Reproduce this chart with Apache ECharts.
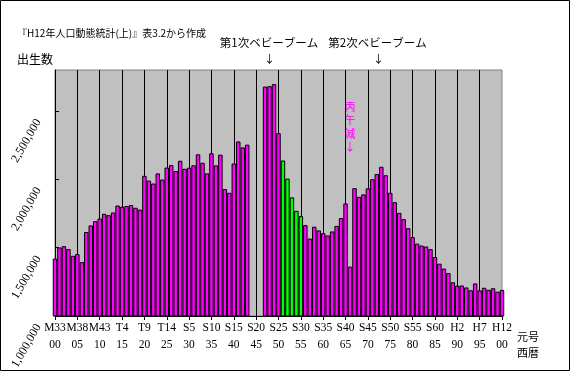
<!DOCTYPE html>
<html><head><meta charset="utf-8">
<script src="https://cdn.jsdelivr.net/npm/echarts@6/dist/echarts.min.js"></script>
<style>html,body{margin:0;padding:0;background:#fff}#c{width:571px;height:377px}</style>
</head><body><div id="c"></div>
<script>
// Categories: years 1900..2000
const years = [];
for (let y = 1900; y <= 2000; y++) years.push(String(y));

// Births per year (1944-1946: no data)
const births = [
  1420534, 1501591, 1510835, 1489816, 1440371, 1452770, 1394295, 1614472, 1662815, 1693850,
  1712857, 1747803, 1737674, 1757441, 1808402, 1799326, 1804822, 1812413, 1791992, 1778685,
  2025564, 1990876, 1969314, 2043297, 1998520, 2086091, 2104405, 2060737, 2135852, 2077026,
  2085101, 2102784, 2182742, 2121253, 2043783, 2190704, 2101969, 2180734, 1928321, 1901573,
  2115867, 2277283, 2233660, 2253535, null, null, null, 2678792, 2681624, 2696638,
  2337507, 2137689, 2005162, 1868040, 1769580, 1730692, 1665278, 1566713, 1653469, 1626088,
  1606041, 1589372, 1618616, 1659521, 1716761, 1823697, 1360974, 1935647, 1871839, 1889815,
  1934239, 2000973, 2038682, 2091983, 2029989, 1901440, 1832617, 1755100, 1708643, 1642580,
  1576889, 1529455, 1515392, 1508687, 1489780, 1431577, 1382946, 1346658, 1314006, 1246802,
  1221585, 1223245, 1208989, 1188282, 1238328, 1187064, 1206555, 1191665, 1203147, 1177669,
  1190547
];

// Highlighted (green) years
const highlightYears = ['1951', '1952', '1953', '1954', '1955'];

// Tick labels every 5 years
const eraLabels = ['M33','M38','M43','T4','T9','T14','S5','S10','S15','S20','S25','S30','S35','S40','S45','S50','S55','S60','H2','H7','H12'];
const westernLabels = ['00','05','10','15','20','25','30','35','40','45','50','55','60','65','70','75','80','85','90','95','00'];

const chart = echarts.init(document.getElementById('c'), null, {renderer: 'canvas'});
const serif = "'Liberation Serif', 'DejaVu Serif', serif";
const jp = "'Noto Sans CJK JP', sans-serif";

chart.setOption({
  animation: false,
  backgroundColor: '#ffffff',
  grid: {
    left: 55, right: 69, top: 70, bottom: 61, z: -1,
    show: true, backgroundColor: '#C0C0C0', borderColor: '#808080', borderWidth: 1,
    containLabel: false, outerBoundsMode: 'none'
  },
  xAxis: {
    type: 'category',
    data: years,
    boundaryGap: false,
    z: 1,
    axisLine: {show: true, lineStyle: {color: '#000', width: 1}},
    axisTick: {show: true, interval: 4, length: 4, inside: false, lineStyle: {color: '#000'}},
    splitLine: {show: true, interval: 4, showMaxLine: false, lineStyle: {color: '#000', width: 1}},
    axisLabel: {
      interval: 4, hideOverlap: false, showMinLabel: true, showMaxLabel: true, margin: 3,
      fontFamily: serif, fontSize: 11.5, color: '#000', lineHeight: 17,
      formatter: (v, i) => (i % 5 === 0) ? eraLabels[i / 5] + '\n' + westernLabels[i / 5] : ''
    }
  },
  yAxis: {
    type: 'value',
    min: 1000000, max: 2800000, interval: 500000,
    z: 1,
    axisLine: {show: true, lineStyle: {color: '#000', width: 1}},
    axisTick: {show: true, inside: true, length: 4, lineStyle: {color: '#000'}},
    splitLine: {show: false},
    axisLabel: {
      rotate: 60, margin: 32, verticalAlign: 'top', align: 'right', padding: [11, 0, 0, 0],
      fontFamily: serif, fontSize: 12, lineHeight: 14, color: '#000',
      showMaxLabel: false, showMinLabel: true,
      formatter: v => (v > 2500000 ? '' : v.toLocaleString('en-US'))
    }
  },
  series: [{
    type: 'bar',
    data: births,
    barCategoryGap: '0%',
    clip: true,
    z: 2,
    itemStyle: {
      color: p => highlightYears.indexOf(p.name) >= 0 ? '#00FF00' : '#FF00FF',
      borderColor: '#000', borderWidth: 1
    }
  }],
  graphic: [
    {type: 'rect', silent: true, shape: {x: 0.5, y: 0.5, width: 569, height: 370}, style: {fill: null, stroke: '#000', lineWidth: 1}},
    {type: 'text', x: 17, y: 33, style: {text: '『H12年人口動態統計(上)』表3.2から作成', fontSize: 10, fontFamily: jp, fill: '#000', align: 'left', verticalAlign: 'middle'}},
    {type: 'text', x: 17, y: 59, style: {text: '出生数', fontSize: 12, fontFamily: jp, fill: '#000', align: 'left', verticalAlign: 'middle'}},
    {type: 'text', x: 269, y: 43, style: {text: '第1次ベビーブーム', fontSize: 11.5, fontFamily: jp, fill: '#000', align: 'center', verticalAlign: 'middle'}},
    {type: 'text', x: 269.5, y: 59, style: {text: '↓', fontSize: 11, fontFamily: jp, fill: '#000', align: 'center', verticalAlign: 'middle'}},
    {type: 'text', x: 377.5, y: 43, style: {text: '第2次ベビーブーム', fontSize: 11.5, fontFamily: jp, fill: '#000', align: 'center', verticalAlign: 'middle'}},
    {type: 'text', x: 378.5, y: 59, style: {text: '↓', fontSize: 11, fontFamily: jp, fill: '#000', align: 'center', verticalAlign: 'middle'}},
    {type: 'text', x: 350, y: 100, style: {text: '丙\n午\n減\n↓', fontSize: 11, lineHeight: 13.5, fontFamily: jp, fill: '#FF00FF', align: 'center', verticalAlign: 'top'}},
    {type: 'text', x: 528, y: 337, style: {text: '元号', fontSize: 11, fontFamily: jp, fill: '#000', align: 'center', verticalAlign: 'middle'}},
    {type: 'text', x: 528, y: 353, style: {text: '西暦', fontSize: 11, fontFamily: jp, fill: '#000', align: 'center', verticalAlign: 'middle'}}
  ]
});
</script>
</body></html>
